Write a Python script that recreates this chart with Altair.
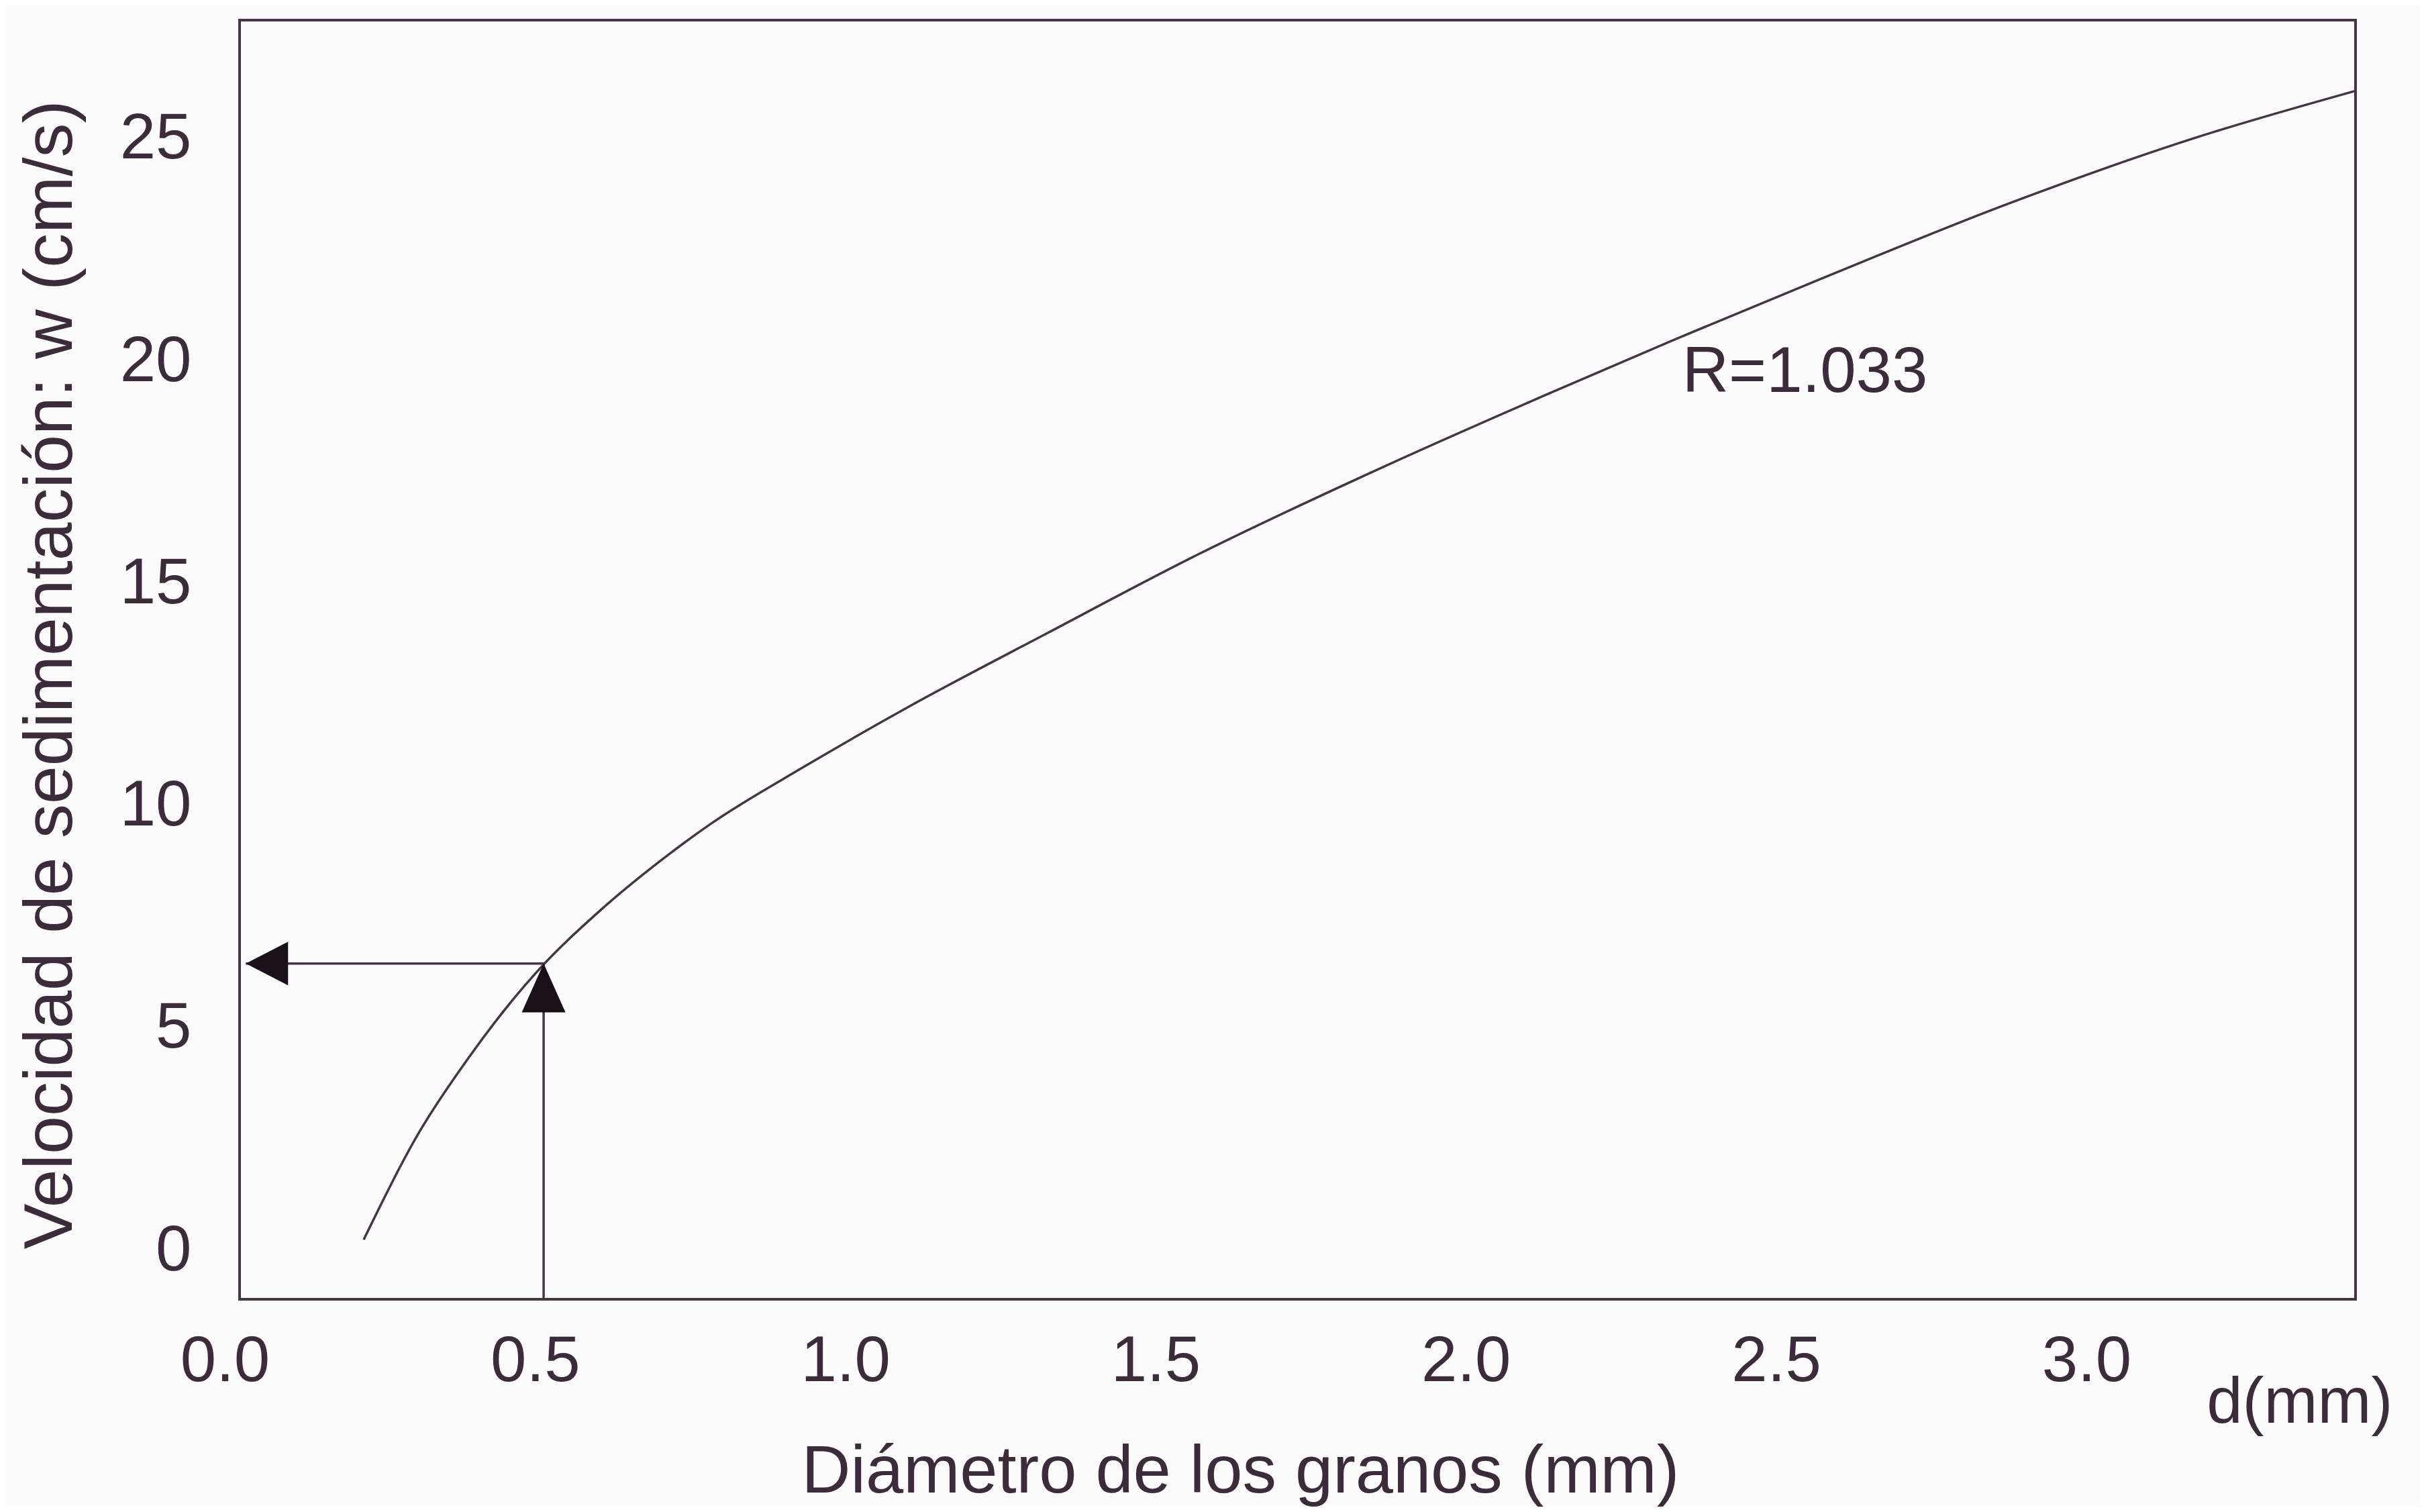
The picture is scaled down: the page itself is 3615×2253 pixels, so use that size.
import altair as alt
import pandas as pd

# Curve: grain diameter (mm) vs settling velocity (cm/s)
d_mm = [0.20, 0.29, 0.37, 0.48, 0.58, 0.68, 0.76, 0.91, 1.08, 1.30, 1.54,
        1.84, 2.10, 2.32, 2.55, 2.85, 3.16, 3.41]
w_cms = [0.15, 2.58, 4.26, 6.19, 7.54, 8.69, 9.51, 10.79, 12.15, 13.78, 15.53,
         17.51, 19.12, 20.44, 21.77, 23.45, 24.97, 25.99]

# Read-off arrows (d = 0.5 mm -> w ~ 6.4 cm/s)
arrow_d = [0.49]
arrow_w = [6.36]
arrow_left_tip = [0.01]
axis_bottom = [-1.19]

x_ticks = [0.0, 0.5, 1.0, 1.5, 2.0, 2.5, 3.0]
y_ticks = [0, 5, 10, 15, 20, 25]
x_domain = [0, 3.41]
y_domain = [-1.19, 27.58]

r_label = ["R=1.033"]
r_pos_d = [2.325]
r_pos_w = [19.22]
unit_label = ["d(mm)"]
unit_pos_d = [3.32]
unit_pos_w = [-3.97]

INK = "#3b2b3b"
LINE = "#453545"
FONT = "Liberation Sans"

curve_df = pd.DataFrame({"d": d_mm, "w": w_cms})
hline_df = pd.DataFrame({"x": arrow_left_tip, "x2": arrow_d, "y": arrow_w})
vline_df = pd.DataFrame({"x": arrow_d, "y": axis_bottom, "y2": arrow_w})
up_head_df = pd.DataFrame({"x": arrow_d, "y": arrow_w})
left_head_df = pd.DataFrame({"x": arrow_left_tip, "y": arrow_w})
r_df = pd.DataFrame({"x": r_pos_d, "y": r_pos_w, "t": r_label})
unit_df = pd.DataFrame({"x": unit_pos_d, "y": unit_pos_w, "t": unit_label})

xscale = alt.Scale(domain=x_domain, nice=False, zero=False)
yscale = alt.Scale(domain=y_domain, nice=False, zero=False)

x_axis = alt.Axis(
    values=x_ticks, format=".1f", title="Diámetro de los granos (mm)",
    labelFontSize=96, labelPadding=45, labelOffset=-22, labelFlush=False,
    titleFontSize=101, titleX=1491, titleY=257, titleBaseline="middle",
    titleAlign="center",
)
y_axis = alt.Axis(
    values=y_ticks, format="d", title="Velocidad de sedimentación: w (cm/s)",
    labelFontSize=96, labelPadding=72, labelOffset=6, labelFlush=False,
    titleFontSize=102, titleX=-282, titleY=975, titleAngle=-90,
    titleBaseline="middle", titleAlign="center",
)

curve = alt.Chart(curve_df).mark_line(
    color=LINE, strokeWidth=3.5, interpolate="monotone"
).encode(
    x=alt.X("d:Q", scale=xscale, axis=x_axis),
    y=alt.Y("w:Q", scale=yscale, axis=y_axis),
)

hline = alt.Chart(hline_df).mark_rule(color=LINE, strokeWidth=3.5).encode(
    x=alt.X("x:Q", scale=xscale), x2="x2:Q", y=alt.Y("y:Q", scale=yscale)
)
vline = alt.Chart(vline_df).mark_rule(color=LINE, strokeWidth=3.5).encode(
    x=alt.X("x:Q", scale=xscale), y=alt.Y("y:Q", scale=yscale), y2="y2:Q"
)

up_head = alt.Chart(up_head_df).mark_point(
    shape="M0,0L0.93,2.08L-0.93,2.08Z", filled=True, size=4900,
    color="#1a101a", opacity=1, strokeWidth=0,
).encode(x=alt.X("x:Q", scale=xscale), y=alt.Y("y:Q", scale=yscale))

left_head = alt.Chart(left_head_df).mark_point(
    shape="M0,0L1.8,-0.93L1.8,0.93Z", filled=True, size=4900,
    color="#1a101a", opacity=1, strokeWidth=0,
).encode(x=alt.X("x:Q", scale=xscale), y=alt.Y("y:Q", scale=yscale))

r_text = alt.Chart(r_df).mark_text(
    align="left", baseline="alphabetic", fontSize=96, font=FONT, color=INK
).encode(x=alt.X("x:Q", scale=xscale), y=alt.Y("y:Q", scale=yscale), text="t:N")

unit_text = alt.Chart(unit_df).mark_text(
    align="center", baseline="alphabetic", fontSize=96, font=FONT, color=INK
).encode(x=alt.X("x:Q", scale=xscale), y=alt.Y("y:Q", scale=yscale), text="t:N")

chart = alt.layer(
    curve, hline, vline, up_head, left_head, r_text, unit_text
).properties(
    width=3153, height=1906,
    autosize=alt.AutoSizeParams(type="none"),
    padding={"left": 349, "top": 22, "right": 97, "bottom": 309},
    background="#fbfbfb",
).configure_view(
    stroke=LINE, strokeWidth=4
).configure_axis(
    domain=False, ticks=False, grid=False,
    labelFont=FONT, labelColor=INK, titleFont=FONT, titleColor=INK,
    titleFontWeight="normal",
)

chart.save("out.html", embed_options={"renderer": "svg", "actions": False})
